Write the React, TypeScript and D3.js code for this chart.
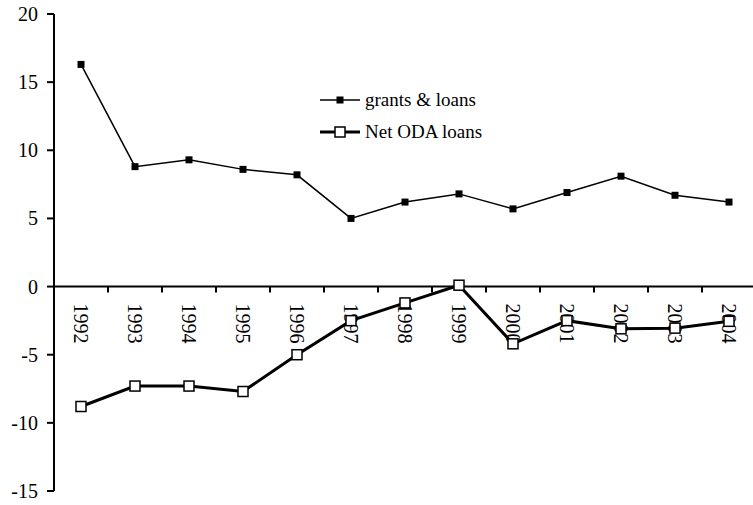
import React from "react";
import * as d3 from "d3";

const years = ["1992","1993","1994","1995","1996","1997","1998","1999","2000","2001","2002","2003","2004"];
const grantsLoans = [16.3, 8.8, 9.3, 8.6, 8.2, 5.0, 6.2, 6.8, 5.7, 6.9, 8.1, 6.7, 6.2];
const netOdaLoans = [-8.8, -7.3, -7.3, -7.7, -5.0, -2.5, -1.2, 0.1, -4.2, -2.5, -3.1, -3.05, -2.55];
const yTicks = [20, 15, 10, 5, 0, -5, -10, -15];

const W = 753, H = 505;
const left = 54, right = 756, top = 14, bottom = 491;
const FONT = `"Liberation Serif", "Times New Roman", Times, serif`;

export default function App() {
  const x = d3.scaleBand<string>().domain(years).range([left, right]);
  const y = d3.scaleLinear().domain([-15, 20]).range([bottom, top]);
  const cx = (i: number) => (x(years[i]) as number) + x.bandwidth() / 2;
  const line = d3.line<number>().x((_, i) => cx(i)).y((d) => y(d));
  const y0 = y(0);
  const tStyle = { fontFamily: FONT };

  return (
    <svg width={W} height={H} style={{ position: "absolute", left: 0, top: 0, background: "#fff" }}>
      {/* y axis */}
      <line x1={left} x2={left} y1={top} y2={bottom} stroke="#000" strokeWidth={2} />
      {yTicks.map((t) => (
        <g key={t}>
          <line x1={left - 7} x2={left} y1={y(t)} y2={y(t)} stroke="#000" strokeWidth={2} />
          <text x={left - 16} y={y(t)} dy="0.35em" textAnchor="end" style={tStyle} fontSize={20}>{t}</text>
        </g>
      ))}
      {/* x axis */}
      <line x1={left} x2={W} y1={y0} y2={y0} stroke="#000" strokeWidth={2} />
      {years.slice(1).map((yr) => (
        <line key={yr} x1={x(yr) as number} x2={x(yr) as number} y1={y0} y2={y0 + 6} stroke="#000" strokeWidth={2} />
      ))}
      {years.map((yr, i) => (
        <text key={yr} transform={`translate(${cx(i)},${y0 + 17}) rotate(90)`} dy="0.35em" textAnchor="start" style={tStyle} fontSize={20}>{yr}</text>
      ))}
      {/* series: grants & loans */}
      <path d={line(grantsLoans) || ""} fill="none" stroke="#000" strokeWidth={1.5} />
      {grantsLoans.map((v, i) => (
        <rect key={i} x={cx(i) - 3.5} y={y(v) - 3.5} width={7} height={7} fill="#000" />
      ))}
      {/* series: net ODA loans */}
      <path d={line(netOdaLoans) || ""} fill="none" stroke="#000" strokeWidth={3} />
      {netOdaLoans.map((v, i) => (
        <rect key={i} x={cx(i) - 5} y={y(v) - 5} width={10} height={10} fill="#fff" stroke="#000" strokeWidth={1.5} />
      ))}
      {/* legend */}
      <g>
        <line x1={320} x2={360} y1={100} y2={100} stroke="#000" strokeWidth={1.5} />
        <rect x={336.5} y={96.5} width={7} height={7} fill="#000" />
        <text x={365} y={100} dy="0.32em" style={tStyle} fontSize={19}>grants &amp; loans</text>
        <line x1={320} x2={360} y1={132} y2={132} stroke="#000" strokeWidth={3} />
        <rect x={335} y={127} width={10} height={10} fill="#fff" stroke="#000" strokeWidth={1.5} />
        <text x={365} y={132} dy="0.32em" style={tStyle} fontSize={19}>Net ODA loans</text>
      </g>
    </svg>
  );
}
